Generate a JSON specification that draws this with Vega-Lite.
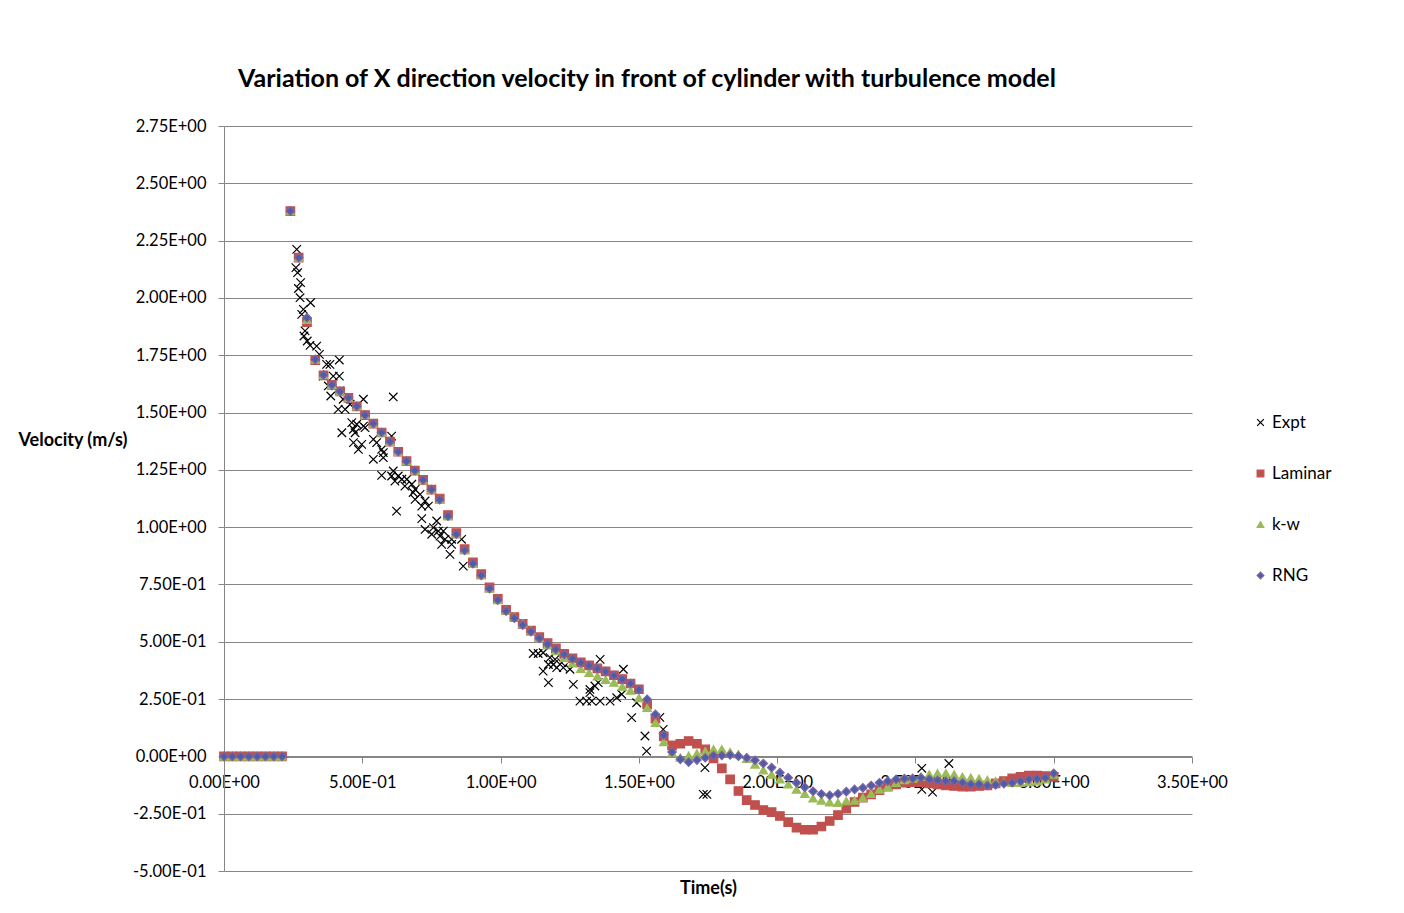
{
  "$schema": "https://vega.github.io/schema/vega-lite/v6.json",
  "width": 968,
  "height": 745,
  "autosize": {"type": "none"},
  "padding": {"left": 224, "top": 126, "right": 212, "bottom": 42},
  "background": "white",
  "config": {
    "view": {"stroke": null},
    "font": "Lato",
    "axis": {
      "domainColor": "#868686", "tickColor": "#868686", "gridColor": "#868686",
      "labelFont": "Lato", "labelFontSize": 16.5, "labelColor": "#000000",
      "titleFont": "Lato", "titleFontSize": 18, "titleFontWeight": "bold", "titleColor": "#000000",
      "tickSize": 6
    }
  },
  "title": {
    "text": "Variation of X direction velocity in front of cylinder with turbulence model",
    "font": "Lato", "fontSize": 25, "fontWeight": "bold", "color": "#000000",
    "anchor": "middle", "frame": "group", "dx": -61, "baseline": "bottom", "offset": 1
  },
  "data": {"values": [
    {"s":"Expt","t":0.263,"v":2.212},{"s":"Expt","t":0.260,"v":2.132},{"s":"Expt","t":0.266,"v":2.110},{"s":"Expt","t":0.277,"v":2.067},
    {"s":"Expt","t":0.269,"v":2.041},{"s":"Expt","t":0.275,"v":2.001},{"s":"Expt","t":0.313,"v":1.979},{"s":"Expt","t":0.287,"v":1.950},
    {"s":"Expt","t":0.281,"v":1.928},{"s":"Expt","t":0.293,"v":1.856},{"s":"Expt","t":0.289,"v":1.834},{"s":"Expt","t":0.301,"v":1.812},
    {"s":"Expt","t":0.311,"v":1.793},{"s":"Expt","t":0.335,"v":1.790},{"s":"Expt","t":0.345,"v":1.754},{"s":"Expt","t":0.371,"v":1.710},
    {"s":"Expt","t":0.383,"v":1.710},{"s":"Expt","t":0.417,"v":1.729},{"s":"Expt","t":0.359,"v":1.659},{"s":"Expt","t":0.395,"v":1.659},
    {"s":"Expt","t":0.417,"v":1.659},{"s":"Expt","t":0.377,"v":1.616},{"s":"Expt","t":0.386,"v":1.572},{"s":"Expt","t":0.419,"v":1.594},
    {"s":"Expt","t":0.431,"v":1.558},{"s":"Expt","t":0.413,"v":1.514},{"s":"Expt","t":0.438,"v":1.514},{"s":"Expt","t":0.456,"v":1.536},
    {"s":"Expt","t":0.504,"v":1.558},{"s":"Expt","t":0.612,"v":1.568},{"s":"Expt","t":0.462,"v":1.456},{"s":"Expt","t":0.480,"v":1.449},
    {"s":"Expt","t":0.504,"v":1.441},{"s":"Expt","t":0.468,"v":1.427},{"s":"Expt","t":0.474,"v":1.412},{"s":"Expt","t":0.510,"v":1.434},
    {"s":"Expt","t":0.426,"v":1.412},{"s":"Expt","t":0.468,"v":1.369},{"s":"Expt","t":0.498,"v":1.361},{"s":"Expt","t":0.486,"v":1.339},
    {"s":"Expt","t":0.540,"v":1.383},{"s":"Expt","t":0.552,"v":1.369},{"s":"Expt","t":0.570,"v":1.339},{"s":"Expt","t":0.576,"v":1.325},
    {"s":"Expt","t":0.606,"v":1.397},{"s":"Expt","t":0.540,"v":1.296},{"s":"Expt","t":0.576,"v":1.303},{"s":"Expt","t":0.570,"v":1.226},
    {"s":"Expt","t":0.612,"v":1.245},{"s":"Expt","t":0.606,"v":1.223},{"s":"Expt","t":0.630,"v":1.223},{"s":"Expt","t":0.643,"v":1.209},
    {"s":"Expt","t":0.661,"v":1.209},{"s":"Expt","t":0.654,"v":1.179},{"s":"Expt","t":0.679,"v":1.187},{"s":"Expt","t":0.691,"v":1.165},
    {"s":"Expt","t":0.709,"v":1.143},{"s":"Expt","t":0.618,"v":1.201},{"s":"Expt","t":0.684,"v":1.151},{"s":"Expt","t":0.691,"v":1.121},
    {"s":"Expt","t":0.727,"v":1.114},{"s":"Expt","t":0.715,"v":1.092},{"s":"Expt","t":0.739,"v":1.092},{"s":"Expt","t":0.624,"v":1.070},
    {"s":"Expt","t":0.715,"v":1.037},{"s":"Expt","t":0.769,"v":1.027},{"s":"Expt","t":0.727,"v":0.990},{"s":"Expt","t":0.757,"v":0.998},
    {"s":"Expt","t":0.775,"v":0.983},{"s":"Expt","t":0.793,"v":0.983},{"s":"Expt","t":0.751,"v":0.969},{"s":"Expt","t":0.781,"v":0.961},
    {"s":"Expt","t":0.799,"v":0.947},{"s":"Expt","t":0.823,"v":0.947},{"s":"Expt","t":0.859,"v":0.947},{"s":"Expt","t":0.787,"v":0.925},
    {"s":"Expt","t":0.823,"v":0.925},{"s":"Expt","t":0.817,"v":0.881},{"s":"Expt","t":0.865,"v":0.830},
    {"s":"Expt","t":1.118,"v":0.449},{"s":"Expt","t":1.136,"v":0.449},{"s":"Expt","t":1.154,"v":0.452},{"s":"Expt","t":1.179,"v":0.431},
    {"s":"Expt","t":1.197,"v":0.423},{"s":"Expt","t":1.173,"v":0.401},{"s":"Expt","t":1.191,"v":0.401},{"s":"Expt","t":1.154,"v":0.372},
    {"s":"Expt","t":1.203,"v":0.387},{"s":"Expt","t":1.221,"v":0.409},{"s":"Expt","t":1.227,"v":0.387},{"s":"Expt","t":1.173,"v":0.322},
    {"s":"Expt","t":1.251,"v":0.380},{"s":"Expt","t":1.360,"v":0.423},{"s":"Expt","t":1.263,"v":0.314},{"s":"Expt","t":1.323,"v":0.292},
    {"s":"Expt","t":1.341,"v":0.307},{"s":"Expt","t":1.353,"v":0.322},{"s":"Expt","t":1.323,"v":0.278},{"s":"Expt","t":1.287,"v":0.241},
    {"s":"Expt","t":1.311,"v":0.241},{"s":"Expt","t":1.330,"v":0.241},{"s":"Expt","t":1.360,"v":0.241},{"s":"Expt","t":1.396,"v":0.241},
    {"s":"Expt","t":1.420,"v":0.256},{"s":"Expt","t":1.438,"v":0.271},{"s":"Expt","t":1.444,"v":0.380},{"s":"Expt","t":1.492,"v":0.234},
    {"s":"Expt","t":1.474,"v":0.169},{"s":"Expt","t":1.522,"v":0.089},{"s":"Expt","t":1.528,"v":0.023},{"s":"Expt","t":1.576,"v":0.170},
    {"s":"Expt","t":1.588,"v":0.118},{"s":"Expt","t":1.739,"v":-0.049},{"s":"Expt","t":1.733,"v":-0.166},{"s":"Expt","t":1.746,"v":-0.166},
    {"s":"Expt","t":2.523,"v":-0.052},{"s":"Expt","t":2.621,"v":-0.031},{"s":"Expt","t":2.523,"v":-0.144},{"s":"Expt","t":2.562,"v":-0.156},

    {"s":"Laminar","t":0,"v":0},{"s":"Laminar","t":0.03,"v":0},{"s":"Laminar","t":0.06,"v":0},{"s":"Laminar","t":0.09,"v":0},
    {"s":"Laminar","t":0.12,"v":0},{"s":"Laminar","t":0.15,"v":0},{"s":"Laminar","t":0.18,"v":0},{"s":"Laminar","t":0.21,"v":0},
    {"s":"Laminar","t":0.24,"v":2.379},{"s":"Laminar","t":0.27,"v":2.176},{"s":"Laminar","t":0.30,"v":1.894},{"s":"Laminar","t":0.33,"v":1.728},
    {"s":"Laminar","t":0.36,"v":1.662},{"s":"Laminar","t":0.39,"v":1.621},{"s":"Laminar","t":0.42,"v":1.592},{"s":"Laminar","t":0.45,"v":1.564},
    {"s":"Laminar","t":0.48,"v":1.527},{"s":"Laminar","t":0.51,"v":1.489},{"s":"Laminar","t":0.54,"v":1.452},{"s":"Laminar","t":0.57,"v":1.413},
    {"s":"Laminar","t":0.60,"v":1.373},{"s":"Laminar","t":0.63,"v":1.329},{"s":"Laminar","t":0.66,"v":1.288},{"s":"Laminar","t":0.69,"v":1.247},
    {"s":"Laminar","t":0.72,"v":1.206},{"s":"Laminar","t":0.75,"v":1.164},{"s":"Laminar","t":0.78,"v":1.125},{"s":"Laminar","t":0.81,"v":1.053},
    {"s":"Laminar","t":0.84,"v":0.974},{"s":"Laminar","t":0.87,"v":0.904},{"s":"Laminar","t":0.90,"v":0.846},{"s":"Laminar","t":0.93,"v":0.795},
    {"s":"Laminar","t":0.96,"v":0.737},{"s":"Laminar","t":0.99,"v":0.687},{"s":"Laminar","t":1.02,"v":0.639},{"s":"Laminar","t":1.05,"v":0.608},
    {"s":"Laminar","t":1.08,"v":0.578},{"s":"Laminar","t":1.11,"v":0.549},{"s":"Laminar","t":1.14,"v":0.520},{"s":"Laminar","t":1.17,"v":0.494},
    {"s":"Laminar","t":1.20,"v":0.471},{"s":"Laminar","t":1.23,"v":0.447},{"s":"Laminar","t":1.26,"v":0.428},{"s":"Laminar","t":1.29,"v":0.410},
    {"s":"Laminar","t":1.32,"v":0.397},{"s":"Laminar","t":1.35,"v":0.384},{"s":"Laminar","t":1.38,"v":0.371},{"s":"Laminar","t":1.41,"v":0.354},
    {"s":"Laminar","t":1.44,"v":0.337},{"s":"Laminar","t":1.47,"v":0.318},{"s":"Laminar","t":1.50,"v":0.293},{"s":"Laminar","t":1.53,"v":0.227},
    {"s":"Laminar","t":1.56,"v":0.165},{"s":"Laminar","t":1.59,"v":0.087},{"s":"Laminar","t":1.62,"v":0.048},{"s":"Laminar","t":1.65,"v":0.055},
    {"s":"Laminar","t":1.68,"v":0.067},{"s":"Laminar","t":1.71,"v":0.055},{"s":"Laminar","t":1.74,"v":0.031},{"s":"Laminar","t":1.77,"v":-0.009},
    {"s":"Laminar","t":1.80,"v":-0.052},{"s":"Laminar","t":1.83,"v":-0.100},{"s":"Laminar","t":1.86,"v":-0.151},{"s":"Laminar","t":1.89,"v":-0.191},
    {"s":"Laminar","t":1.92,"v":-0.212},{"s":"Laminar","t":1.95,"v":-0.234},{"s":"Laminar","t":1.98,"v":-0.243},{"s":"Laminar","t":2.01,"v":-0.260},
    {"s":"Laminar","t":2.04,"v":-0.287},{"s":"Laminar","t":2.07,"v":-0.311},{"s":"Laminar","t":2.10,"v":-0.320},{"s":"Laminar","t":2.13,"v":-0.320},
    {"s":"Laminar","t":2.16,"v":-0.306},{"s":"Laminar","t":2.19,"v":-0.282},{"s":"Laminar","t":2.22,"v":-0.256},{"s":"Laminar","t":2.25,"v":-0.228},
    {"s":"Laminar","t":2.28,"v":-0.199},{"s":"Laminar","t":2.31,"v":-0.180},{"s":"Laminar","t":2.34,"v":-0.166},{"s":"Laminar","t":2.37,"v":-0.147},
    {"s":"Laminar","t":2.40,"v":-0.132},{"s":"Laminar","t":2.43,"v":-0.122},{"s":"Laminar","t":2.46,"v":-0.115},{"s":"Laminar","t":2.49,"v":-0.112},
    {"s":"Laminar","t":2.52,"v":-0.112},{"s":"Laminar","t":2.55,"v":-0.118},{"s":"Laminar","t":2.58,"v":-0.122},{"s":"Laminar","t":2.61,"v":-0.127},
    {"s":"Laminar","t":2.64,"v":-0.129},{"s":"Laminar","t":2.67,"v":-0.132},{"s":"Laminar","t":2.70,"v":-0.132},{"s":"Laminar","t":2.73,"v":-0.129},
    {"s":"Laminar","t":2.76,"v":-0.127},{"s":"Laminar","t":2.79,"v":-0.118},{"s":"Laminar","t":2.82,"v":-0.108},{"s":"Laminar","t":2.85,"v":-0.096},
    {"s":"Laminar","t":2.88,"v":-0.089},{"s":"Laminar","t":2.91,"v":-0.084},{"s":"Laminar","t":2.94,"v":-0.084},{"s":"Laminar","t":2.97,"v":-0.086},
    {"s":"Laminar","t":3.00,"v":-0.089},

    {"s":"k-w","t":0,"v":0},{"s":"k-w","t":0.03,"v":0},{"s":"k-w","t":0.06,"v":0},{"s":"k-w","t":0.09,"v":0},
    {"s":"k-w","t":0.12,"v":0},{"s":"k-w","t":0.15,"v":0},{"s":"k-w","t":0.18,"v":0},{"s":"k-w","t":0.21,"v":0},
    {"s":"k-w","t":0.24,"v":2.379},{"s":"k-w","t":0.27,"v":2.176},{"s":"k-w","t":0.30,"v":1.905},{"s":"k-w","t":0.33,"v":1.732},
    {"s":"k-w","t":0.36,"v":1.664},{"s":"k-w","t":0.39,"v":1.621},{"s":"k-w","t":0.42,"v":1.592},{"s":"k-w","t":0.45,"v":1.564},
    {"s":"k-w","t":0.48,"v":1.527},{"s":"k-w","t":0.51,"v":1.489},{"s":"k-w","t":0.54,"v":1.452},{"s":"k-w","t":0.57,"v":1.413},
    {"s":"k-w","t":0.60,"v":1.373},{"s":"k-w","t":0.63,"v":1.329},{"s":"k-w","t":0.66,"v":1.288},{"s":"k-w","t":0.69,"v":1.247},
    {"s":"k-w","t":0.72,"v":1.206},{"s":"k-w","t":0.75,"v":1.164},{"s":"k-w","t":0.78,"v":1.120},{"s":"k-w","t":0.81,"v":1.048},
    {"s":"k-w","t":0.84,"v":0.969},{"s":"k-w","t":0.87,"v":0.899},{"s":"k-w","t":0.90,"v":0.841},{"s":"k-w","t":0.93,"v":0.790},
    {"s":"k-w","t":0.96,"v":0.732},{"s":"k-w","t":0.99,"v":0.682},{"s":"k-w","t":1.02,"v":0.638},{"s":"k-w","t":1.05,"v":0.610},
    {"s":"k-w","t":1.08,"v":0.580},{"s":"k-w","t":1.11,"v":0.550},{"s":"k-w","t":1.14,"v":0.517},{"s":"k-w","t":1.17,"v":0.485},
    {"s":"k-w","t":1.20,"v":0.460},{"s":"k-w","t":1.23,"v":0.430},{"s":"k-w","t":1.26,"v":0.406},{"s":"k-w","t":1.29,"v":0.382},
    {"s":"k-w","t":1.32,"v":0.365},{"s":"k-w","t":1.35,"v":0.350},{"s":"k-w","t":1.38,"v":0.334},{"s":"k-w","t":1.41,"v":0.322},
    {"s":"k-w","t":1.44,"v":0.305},{"s":"k-w","t":1.47,"v":0.287},{"s":"k-w","t":1.50,"v":0.255},{"s":"k-w","t":1.53,"v":0.212},
    {"s":"k-w","t":1.56,"v":0.147},{"s":"k-w","t":1.59,"v":0.063},{"s":"k-w","t":1.62,"v":0.015},{"s":"k-w","t":1.65,"v":-0.005},
    {"s":"k-w","t":1.68,"v":0.003},{"s":"k-w","t":1.71,"v":0.013},{"s":"k-w","t":1.74,"v":0.023},{"s":"k-w","t":1.77,"v":0.031},
    {"s":"k-w","t":1.80,"v":0.031},{"s":"k-w","t":1.83,"v":0.019},{"s":"k-w","t":1.86,"v":0.009},{"s":"k-w","t":1.89,"v":-0.010},
    {"s":"k-w","t":1.92,"v":-0.035},{"s":"k-w","t":1.95,"v":-0.060},{"s":"k-w","t":1.98,"v":-0.079},{"s":"k-w","t":2.01,"v":-0.100},
    {"s":"k-w","t":2.04,"v":-0.122},{"s":"k-w","t":2.07,"v":-0.144},{"s":"k-w","t":2.10,"v":-0.163},{"s":"k-w","t":2.13,"v":-0.183},
    {"s":"k-w","t":2.16,"v":-0.192},{"s":"k-w","t":2.19,"v":-0.200},{"s":"k-w","t":2.22,"v":-0.202},{"s":"k-w","t":2.25,"v":-0.195},
    {"s":"k-w","t":2.28,"v":-0.192},{"s":"k-w","t":2.31,"v":-0.180},{"s":"k-w","t":2.34,"v":-0.163},{"s":"k-w","t":2.37,"v":-0.144},
    {"s":"k-w","t":2.40,"v":-0.132},{"s":"k-w","t":2.43,"v":-0.115},{"s":"k-w","t":2.46,"v":-0.103},{"s":"k-w","t":2.49,"v":-0.096},
    {"s":"k-w","t":2.52,"v":-0.089},{"s":"k-w","t":2.55,"v":-0.079},{"s":"k-w","t":2.58,"v":-0.074},{"s":"k-w","t":2.61,"v":-0.074},
    {"s":"k-w","t":2.64,"v":-0.079},{"s":"k-w","t":2.67,"v":-0.089},{"s":"k-w","t":2.70,"v":-0.093},{"s":"k-w","t":2.73,"v":-0.097},
    {"s":"k-w","t":2.76,"v":-0.103},{"s":"k-w","t":2.79,"v":-0.108},{"s":"k-w","t":2.82,"v":-0.112},{"s":"k-w","t":2.85,"v":-0.115},
    {"s":"k-w","t":2.88,"v":-0.115},{"s":"k-w","t":2.91,"v":-0.112},{"s":"k-w","t":2.94,"v":-0.108},{"s":"k-w","t":2.97,"v":-0.100},
    {"s":"k-w","t":3.00,"v":-0.079},

    {"s":"RNG","t":0,"v":0},{"s":"RNG","t":0.03,"v":0},{"s":"RNG","t":0.06,"v":0},{"s":"RNG","t":0.09,"v":0},
    {"s":"RNG","t":0.12,"v":0},{"s":"RNG","t":0.15,"v":0},{"s":"RNG","t":0.18,"v":0},{"s":"RNG","t":0.21,"v":0},
    {"s":"RNG","t":0.24,"v":2.379},{"s":"RNG","t":0.27,"v":2.176},{"s":"RNG","t":0.30,"v":1.914},{"s":"RNG","t":0.33,"v":1.732},
    {"s":"RNG","t":0.36,"v":1.664},{"s":"RNG","t":0.39,"v":1.621},{"s":"RNG","t":0.42,"v":1.592},{"s":"RNG","t":0.45,"v":1.564},
    {"s":"RNG","t":0.48,"v":1.527},{"s":"RNG","t":0.51,"v":1.489},{"s":"RNG","t":0.54,"v":1.452},{"s":"RNG","t":0.57,"v":1.413},
    {"s":"RNG","t":0.60,"v":1.373},{"s":"RNG","t":0.63,"v":1.329},{"s":"RNG","t":0.66,"v":1.288},{"s":"RNG","t":0.69,"v":1.247},
    {"s":"RNG","t":0.72,"v":1.206},{"s":"RNG","t":0.75,"v":1.164},{"s":"RNG","t":0.78,"v":1.120},{"s":"RNG","t":0.81,"v":1.048},
    {"s":"RNG","t":0.84,"v":0.969},{"s":"RNG","t":0.87,"v":0.899},{"s":"RNG","t":0.90,"v":0.841},{"s":"RNG","t":0.93,"v":0.790},
    {"s":"RNG","t":0.96,"v":0.732},{"s":"RNG","t":0.99,"v":0.682},{"s":"RNG","t":1.02,"v":0.634},{"s":"RNG","t":1.05,"v":0.603},
    {"s":"RNG","t":1.08,"v":0.573},{"s":"RNG","t":1.11,"v":0.544},{"s":"RNG","t":1.14,"v":0.515},{"s":"RNG","t":1.17,"v":0.489},
    {"s":"RNG","t":1.20,"v":0.467},{"s":"RNG","t":1.23,"v":0.445},{"s":"RNG","t":1.26,"v":0.426},{"s":"RNG","t":1.29,"v":0.409},
    {"s":"RNG","t":1.32,"v":0.396},{"s":"RNG","t":1.35,"v":0.383},{"s":"RNG","t":1.38,"v":0.370},{"s":"RNG","t":1.41,"v":0.353},
    {"s":"RNG","t":1.44,"v":0.336},{"s":"RNG","t":1.47,"v":0.318},{"s":"RNG","t":1.50,"v":0.291},{"s":"RNG","t":1.53,"v":0.249},
    {"s":"RNG","t":1.56,"v":0.183},{"s":"RNG","t":1.59,"v":0.093},{"s":"RNG","t":1.62,"v":0.019},{"s":"RNG","t":1.65,"v":-0.013},
    {"s":"RNG","t":1.68,"v":-0.025},{"s":"RNG","t":1.71,"v":-0.016},{"s":"RNG","t":1.74,"v":-0.006},{"s":"RNG","t":1.77,"v":0.004},
    {"s":"RNG","t":1.80,"v":0.004},{"s":"RNG","t":1.83,"v":0.006},{"s":"RNG","t":1.86,"v":0.001},{"s":"RNG","t":1.89,"v":-0.006},
    {"s":"RNG","t":1.92,"v":-0.017},{"s":"RNG","t":1.95,"v":-0.031},{"s":"RNG","t":1.98,"v":-0.049},{"s":"RNG","t":2.01,"v":-0.071},
    {"s":"RNG","t":2.04,"v":-0.093},{"s":"RNG","t":2.07,"v":-0.115},{"s":"RNG","t":2.10,"v":-0.135},{"s":"RNG","t":2.13,"v":-0.152},
    {"s":"RNG","t":2.16,"v":-0.164},{"s":"RNG","t":2.19,"v":-0.170},{"s":"RNG","t":2.22,"v":-0.163},{"s":"RNG","t":2.25,"v":-0.154},
    {"s":"RNG","t":2.28,"v":-0.144},{"s":"RNG","t":2.31,"v":-0.137},{"s":"RNG","t":2.34,"v":-0.127},{"s":"RNG","t":2.37,"v":-0.115},
    {"s":"RNG","t":2.40,"v":-0.108},{"s":"RNG","t":2.43,"v":-0.100},{"s":"RNG","t":2.46,"v":-0.097},{"s":"RNG","t":2.49,"v":-0.096},
    {"s":"RNG","t":2.52,"v":-0.093},{"s":"RNG","t":2.55,"v":-0.100},{"s":"RNG","t":2.58,"v":-0.105},{"s":"RNG","t":2.61,"v":-0.108},
    {"s":"RNG","t":2.64,"v":-0.108},{"s":"RNG","t":2.67,"v":-0.115},{"s":"RNG","t":2.70,"v":-0.122},{"s":"RNG","t":2.73,"v":-0.122},
    {"s":"RNG","t":2.76,"v":-0.127},{"s":"RNG","t":2.79,"v":-0.124},{"s":"RNG","t":2.82,"v":-0.119},{"s":"RNG","t":2.85,"v":-0.115},
    {"s":"RNG","t":2.88,"v":-0.108},{"s":"RNG","t":2.91,"v":-0.100},{"s":"RNG","t":2.94,"v":-0.097},{"s":"RNG","t":2.97,"v":-0.093},
    {"s":"RNG","t":3.00,"v":-0.074}
  ]},
  "mark": {"type": "point", "filled": true, "opacity": 1, "size": 72, "strokeWidth": 1.2},
  "encoding": {
    "x": {
      "field": "t", "type": "quantitative",
      "scale": {"domain": [0, 3.5], "nice": false, "zero": false},
      "axis": {
        "values": [0, 0.5, 1, 1.5, 2, 2.5, 3, 3.5],
        "labelExpr": "replace(replace(replace(format(datum.value,'.2e'),'e+','E+0'),'e-','E-0'),'\u2212','-')",
        "grid": false, "offset": -114, "labelFlush": false, "labelOverlap": false,
        "labelPadding": 11,
        "title": "Time(s)", "titleY": 122, "titleBaseline": "top"
      }
    },
    "y": {
      "field": "v", "type": "quantitative",
      "scale": {"domain": [-0.5, 2.75], "nice": false, "zero": false},
      "axis": {
        "values": [-0.5, -0.25, 0, 0.25, 0.5, 0.75, 1, 1.25, 1.5, 1.75, 2, 2.25, 2.5, 2.75],
        "labelExpr": "replace(replace(replace(format(datum.value,'.2e'),'e+','E+0'),'e-','E-0'),'\u2212','-')",
        "grid": true, "labelPadding": 12, "labelFlush": false, "labelOverlap": false,
        "title": "Velocity (m/s)", "titleAngle": 0, "titleAlign": "left", "titleBaseline": "middle",
        "titleX": -206, "titleY": 314
      }
    },
    "fill": {
      "field": "s", "type": "nominal",
      "scale": {"domain": ["Expt", "Laminar", "k-w", "RNG"], "range": ["transparent", "#C0504D", "#9BBB59", "#4B5EA8"]},
      "legend": {"title": null, "orient": "none", "legendX": 1028, "legendY": 288, "labelFont": "Lato", "labelFontSize": 17, "labelColor": "#000000", "rowPadding": 33, "labelOffset": 3, "symbolSize": 45, "symbolStrokeWidth": 1.2, "padding": 0}
    },
    "stroke": {
      "field": "s", "type": "nominal",
      "scale": {"domain": ["Expt", "Laminar", "k-w", "RNG"], "range": ["#000000", "#C0504D", "#9BBB59", "#8064A2"]},
      "legend": {"title": null, "orient": "none", "legendX": 1028, "legendY": 288, "labelFont": "Lato", "labelFontSize": 17, "labelColor": "#000000", "rowPadding": 33, "labelOffset": 3, "symbolSize": 45, "symbolStrokeWidth": 1.2, "padding": 0}
    },
    "shape": {
      "field": "s", "type": "nominal",
      "scale": {"domain": ["Expt", "Laminar", "k-w", "RNG"], "range": ["M-1,-1L1,1M1,-1L-1,1", "square", "triangle-up", "diamond"]},
      "legend": {"title": null, "orient": "none", "legendX": 1028, "legendY": 288, "labelFont": "Lato", "labelFontSize": 17, "labelColor": "#000000", "rowPadding": 33, "labelOffset": 3, "symbolSize": 45, "symbolStrokeWidth": 1.2, "padding": 0}
    }
  }
}
